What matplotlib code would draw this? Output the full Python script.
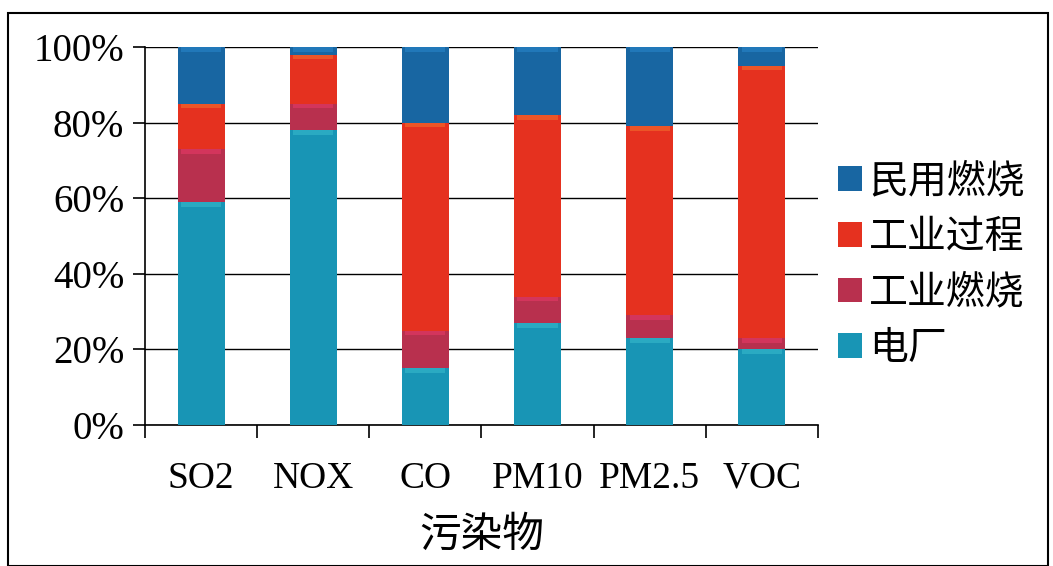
import numpy as np
import matplotlib.pyplot as plt
from matplotlib.ticker import FixedLocator, PercentFormatter

plt.rcParams['font.family'] = ['Liberation Serif', 'Noto Sans CJK SC', 'DejaVu Sans']

pollutants = ["SO2", "NOX", "CO", "PM10", "PM2.5", "VOC"]
power_plant = [59, 78, 15, 27, 23, 20]        # 电厂
industrial_comb = [14, 7, 10, 7, 6, 3]        # 工业燃烧
industrial_proc = [12, 13, 55, 48, 50, 72]    # 工业过程
residential = [15, 2, 20, 18, 21, 5]          # 民用燃烧

sources = ["电厂", "工业燃烧", "工业过程", "民用燃烧"]
colors = ["#1895b5", "#b8304e", "#e5311f", "#1866a2"]
highlight = ["#3cc0d0", "#ee3a6a", "#f47a30", "#2a8ad0"]

fig = plt.figure(figsize=(10.53, 5.66), dpi=100)
ax = fig.add_axes([0.1377, 0.249, 0.639, 0.668])

x = np.arange(len(pollutants))
w = 0.42
bottom = np.zeros(len(pollutants))
handles = []
for name, vals, c, hc in zip(sources, [power_plant, industrial_comb, industrial_proc, residential], colors, highlight):
    vals = np.array(vals, dtype=float)
    h = ax.bar(x, vals, w, bottom=bottom, color=c, label=name, zorder=3)
    # lighter band along the top of each segment
    band = np.minimum(vals, 1.2)
    ax.bar(x, band, w * 0.85, bottom=bottom + vals - band, color=hc, alpha=0.5, zorder=4, linewidth=0)
    handles.append(h)
    bottom += vals

ax.set_xlim(-0.5, len(pollutants) - 0.5)
ax.set_ylim(0, 100)
ax.yaxis.set_major_locator(FixedLocator([0, 20, 40, 60, 80, 100]))
ax.yaxis.set_major_formatter(PercentFormatter(decimals=0))
ax.grid(axis='y', color='black', linewidth=1.0, zorder=0)

ax.set_xticks(np.arange(len(pollutants) + 1) - 0.5)
ax.set_xticklabels([])
ax.set_xticks(x, minor=True)
ax.set_xticklabels(pollutants, minor=True)
ax.tick_params(axis='x', which='major', direction='out', length=9, width=1.2)
ax.tick_params(axis='x', which='minor', length=0, labelsize=27, pad=26)
ax.tick_params(axis='y', direction='out', length=9, width=1.2, labelsize=28, pad=6)

for side in ['top', 'right']:
    ax.spines[side].set_visible(False)
for side in ['left', 'bottom']:
    ax.spines[side].set_linewidth(1.2)

ax.set_xlabel("污染物", fontsize=30, family=['Noto Sans CJK SC'], labelpad=14)

fig.legend(handles[::-1], sources[::-1], loc='center left', bbox_to_anchor=(0.796, 0.532),
           frameon=False, prop={'family': 'Noto Sans CJK SC', 'size': 28},
           handlelength=0.6, handleheight=0.6, handletextpad=0.2, labelspacing=0.4,
           borderaxespad=0, borderpad=0)

# outer frame
fig.patches.append(plt.Rectangle((0.008, 0.0), 0.987, 0.977, transform=fig.transFigure,
                                 fill=False, edgecolor='black', linewidth=1.5))

fig.savefig("out.png", dpi=100)
